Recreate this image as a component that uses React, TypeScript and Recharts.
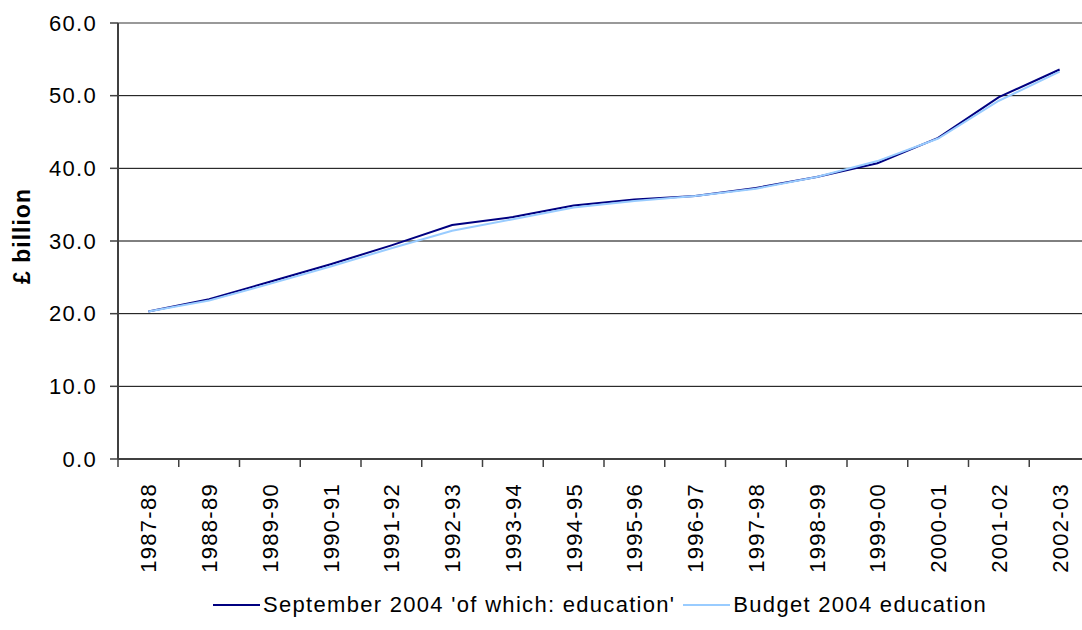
import { LineChart, Line, XAxis, YAxis, CartesianGrid, Legend, ReferenceLine } from "recharts"

const years = [
  "1987-88", "1988-89", "1989-90", "1990-91", "1991-92", "1992-93", "1993-94", "1994-95",
  "1995-96", "1996-97", "1997-98", "1998-99", "1999-00", "2000-01", "2001-02", "2002-03",
]
const september = [20.3, 22.0, 24.4, 26.8, 29.4, 32.2, 33.3, 34.9, 35.7, 36.2, 37.3, 38.8, 40.7, 44.2, 49.8, 53.6]
const budget = [20.3, 21.8, 24.1, 26.5, 29.0, 31.4, 33.0, 34.6, 35.5, 36.2, 37.2, 38.8, 41.0, 44.1, 49.3, 53.3]
const yTicks = [0, 10, 20, 30, 40, 50, 60]
const seriesOrder = ["sep", "budget"]

const data = years.map((year, i) => ({ year, sep: september[i], budget: budget[i] }))

const FONT = "'Liberation Sans', Arial, sans-serif"
const DARK = "#000080"
const LIGHT = "#99ccff"
const AXIS = "#404040"
const FS = 22
const LS = 1.3

// rotated category label, tick mark drawn on the band boundary (Excel style)
function XTick(props: any) {
  const { x, y, payload, index } = props
  const off = payload?.offset ?? 30
  const last = index === years.length - 1
  return (
    <g>
      <line x1={x - off} x2={x - off} y1={y} y2={y + 8} stroke={AXIS} strokeWidth={1.5} />
      {last && <line x1={x + off} x2={x + off} y1={y} y2={y + 8} stroke={AXIS} strokeWidth={1.5} />}
      <text
        transform={`translate(${x}, ${y + 24}) rotate(-90)`}
        textAnchor="end"
        dy="0.36em"
        fontSize={FS}
        letterSpacing={LS}
        fontFamily={FONT}
        fill="#000"
      >
        {payload.value}
      </text>
    </g>
  )
}

function YLabel(p: any) {
  const vb = p.viewBox
  const cy = vb.y + vb.height / 2 - 5
  return (
    <text
      transform={`translate(30, ${cy}) rotate(-90)`}
      textAnchor="middle"
      fontSize={23}
      fontWeight="bold"
      letterSpacing={1}
      fontFamily={FONT}
      fill="#000"
    >
      £ billion
    </text>
  )
}

function LegendBox(props: any) {
  const items = [...(props.payload ?? [])].sort(
    (a: any, b: any) => seriesOrder.indexOf(a.dataKey) - seriesOrder.indexOf(b.dataKey)
  )
  return (
    <div
      style={{
        display: "flex",
        justifyContent: "center",
        alignItems: "center",
        height: 30,
        fontFamily: FONT,
        fontSize: FS,
        letterSpacing: LS,
        color: "#000",
      }}
    >
      {items.map((it: any) => (
        <div key={it.value} style={{ display: "flex", alignItems: "center", marginRight: 8 }}>
          <span style={{ display: "inline-block", width: 47, borderTop: `2px solid ${it.color}`, marginRight: 3 }} />
          <span>{it.value}</span>
        </div>
      ))}
    </div>
  )
}

export default function App() {
  return (
    <div style={{ width: 1082, height: 630, overflow: "hidden", background: "#fff" }}>
      <style>{"body{margin:0}"}</style>
      <LineChart width={1090} height={630} data={data} margin={{ top: 23, right: 0, bottom: 10, left: 0 }}>
        <CartesianGrid vertical={false} stroke="#000" strokeWidth={1} />
        <ReferenceLine y={60} stroke="#999" strokeWidth={2} />
        <XAxis
          dataKey="year"
          scale="band"
          interval={0}
          height={131}
          tickSize={0}
          tickMargin={0}
          tickLine={false}
          tick={<XTick />}
          axisLine={{ stroke: AXIS, strokeWidth: 2 }}
        />
        <YAxis
          width={118}
          domain={[0, 60]}
          ticks={yTicks}
          interval={0}
          tickSize={8}
          tickMargin={13}
          tickFormatter={(v: number) => v.toFixed(1)}
          tick={{ fontSize: FS, fill: "#000", fontFamily: FONT, letterSpacing: LS }}
          tickLine={{ stroke: AXIS, strokeWidth: 1.5 }}
          axisLine={{ stroke: AXIS, strokeWidth: 2 }}
          label={{ content: YLabel }}
        />
        <Legend
          verticalAlign="bottom"
          content={<LegendBox />}
          wrapperStyle={{ left: 118, width: 972, bottom: 10 }}
        />
        <Line
          type="linear"
          dataKey="sep"
          name="September 2004 'of which: education'"
          stroke={DARK}
          strokeWidth={2}
          dot={false}
          isAnimationActive={false}
        />
        <Line
          type="linear"
          dataKey="budget"
          name="Budget 2004 education"
          stroke={LIGHT}
          strokeWidth={2}
          dot={false}
          isAnimationActive={false}
        />
      </LineChart>
    </div>
  )
}
